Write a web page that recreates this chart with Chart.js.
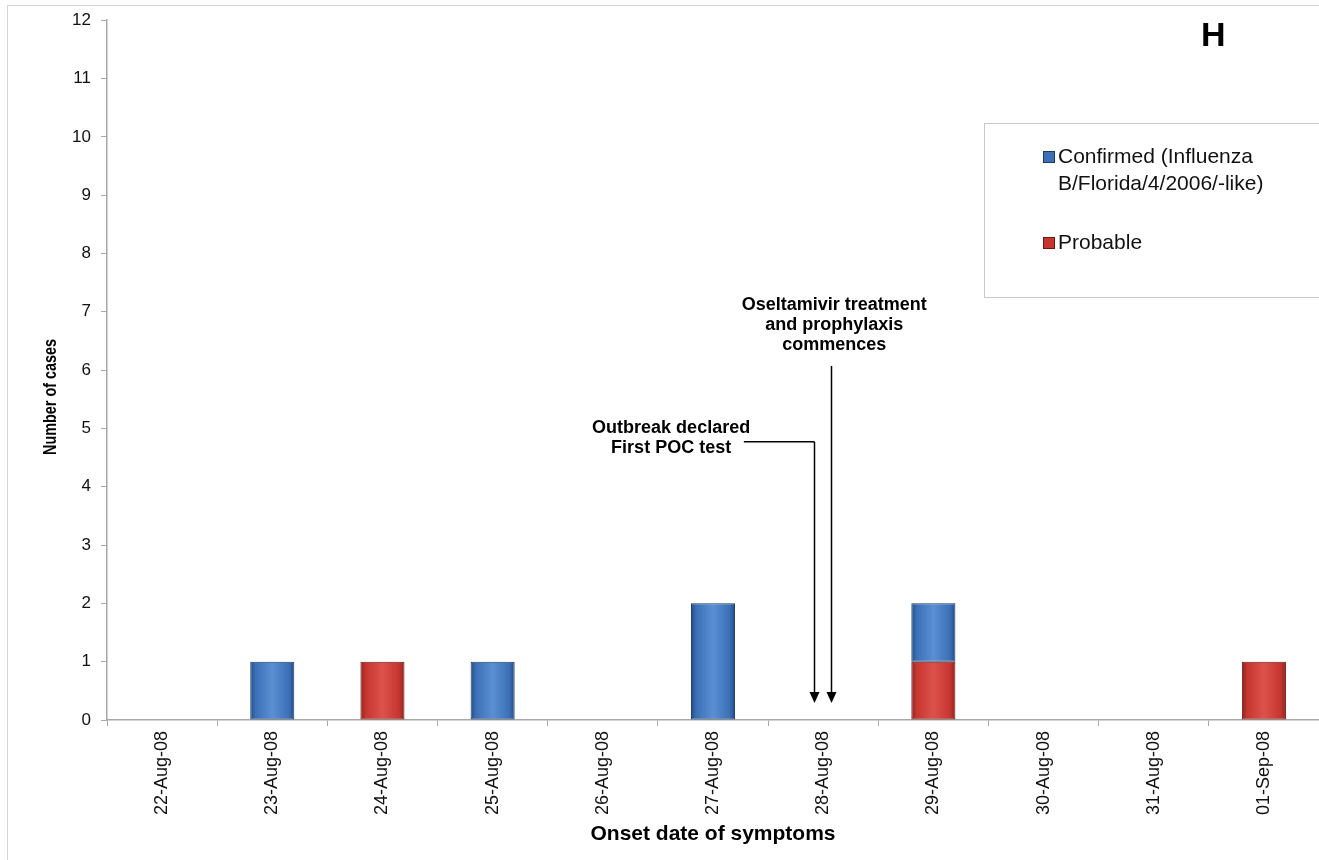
<!DOCTYPE html>
<html>
<head>
<meta charset="utf-8">
<script src="https://cdn.jsdelivr.net/npm/chart.js@4.4.1/dist/chart.umd.min.js"></script>
<style>
  html, body { margin: 0; padding: 0; background: #fff; }
  #wrap { width: 1319px; height: 860px; position: relative; }
</style>
</head>
<body>
<div id="wrap"><canvas id="epiChart"></canvas></div>
<script>
// categories and series
const onsetDates = ['22-Aug-08', '23-Aug-08', '24-Aug-08', '25-Aug-08', '26-Aug-08', '27-Aug-08',
                    '28-Aug-08', '29-Aug-08', '30-Aug-08', '31-Aug-08', '01-Sep-08'];
const confirmedCases = [0, 1, 0, 1, 0, 2, 0, 1, 0, 0, 0];
const probableCases = [0, 0, 1, 0, 0, 0, 0, 1, 0, 0, 1];
const yTicks = [0, 1, 2, 3, 4, 5, 6, 7, 8, 9, 10, 11, 12];
const seriesNames = [['Confirmed (Influenza', 'B/Florida/4/2006/-like)'], ['Probable']];

// annotation positions in data units (category index, cases)
const outbreakText = ['Outbreak declared', 'First POC test'];
const outbreakArrow = { x: 5.92, top: 4.77, tip: 0.29, leaderFrom: 5.28 };
const treatmentText = ['Oseltamivir treatment', 'and prophylaxis', 'commences'];
const treatmentArrow = { x: 6.07, top: 6.07, tip: 0.29 };

const FONT = '"Liberation Sans", Arial, Helvetica, sans-serif';
const colors = {
    blue: { mid: '#3b70b6', light: '#5b8fd3', dark: '#234c86', border: '#1c3a66' },
    red:  { mid: '#c6362f', light: '#dc524b', dark: '#8e221d', border: '#6a1915' }
};

function barGradient(ctx, c) {
    const chart = ctx.chart;
    const xs = chart.scales.x;
    if (!chart.chartArea || !xs || ctx.dataIndex === undefined) return c.mid;
    const cx = xs.getPixelForValue(ctx.dataIndex);
    const w = xs.width / onsetDates.length * 0.4;
    const g = chart.ctx.createLinearGradient(cx - w / 2, 0, cx + w / 2, 0);
    g.addColorStop(0, c.dark);
    g.addColorStop(0.12, c.mid);
    g.addColorStop(0.5, c.light);
    g.addColorStop(0.88, c.mid);
    g.addColorStop(1, c.dark);
    return g;
}

// outer frame, legend, annotations
const decorations = {
    id: 'decorations',
    beforeDraw(chart) {
        const ctx = chart.ctx;
        ctx.save();
        ctx.strokeStyle = '#d4d4d4';
        ctx.lineWidth = 1;
        ctx.strokeRect(7.5, 5.5, chart.width + 10, chart.height + 10);
        ctx.restore();
    },
    afterDraw(chart) {
        const ctx = chart.ctx;
        const xs = chart.scales.x, ys = chart.scales.y;
        const px = v => xs.getPixelForValue(v);
        const py = v => ys.getPixelForValue(v);
        ctx.save();

        // y axis title (condensed like the original)
        ctx.fillStyle = '#000';
        ctx.font = 'bold 18px ' + FONT;
        ctx.textAlign = 'center';
        ctx.textBaseline = 'middle';
        ctx.save();
        ctx.translate(51, 397);
        ctx.rotate(-Math.PI / 2);
        ctx.scale(0.8, 1);
        ctx.fillText('Number of cases', 0, 0);
        ctx.restore();

        // panel letter
        ctx.font = 'bold 34px ' + FONT;
        ctx.fillText('H', px(9.54), py(11.72));

        // legend
        ctx.strokeStyle = '#c8c8c8';
        ctx.lineWidth = 1;
        ctx.strokeRect(984.5, 123.5, 400, 174);
        ctx.font = '21px ' + FONT;
        ctx.textAlign = 'left';
        const legendRows = [
            { c: colors.blue, y: 157, lines: seriesNames[0] },
            { c: colors.red, y: 243, lines: seriesNames[1] }
        ];
        legendRows.forEach(r => {
            ctx.fillStyle = r.c.mid;
            ctx.fillRect(1043, r.y - 6, 12, 12);
            ctx.strokeStyle = r.c.border;
            ctx.strokeRect(1043.5, r.y - 5.5, 11, 11);
            ctx.fillStyle = '#111';
            r.lines.forEach((t, i) => ctx.fillText(t, 1058, r.y + i * 27));
        });

        // annotation texts
        ctx.font = 'bold 18px ' + FONT;
        ctx.textAlign = 'center';
        ctx.fillStyle = '#000';
        outbreakText.forEach((t, i) => ctx.fillText(t, px(4.62), py(5.01) + i * 20));
        treatmentText.forEach((t, i) => ctx.fillText(t, px(6.1), py(7.11) + i * 20));

        // arrows
        ctx.strokeStyle = '#000';
        ctx.lineWidth = 1.5;
        function arrow(x, yTop, yTip) {
            ctx.beginPath();
            ctx.moveTo(x, yTop);
            ctx.lineTo(x, yTip - 10);
            ctx.stroke();
            ctx.beginPath();
            ctx.moveTo(x - 5, yTip - 11);
            ctx.lineTo(x + 5, yTip - 11);
            ctx.lineTo(x, yTip);
            ctx.closePath();
            ctx.fill();
        }
        const ox = Math.round(px(outbreakArrow.x)) + 0.5;
        ctx.beginPath();
        ctx.moveTo(px(outbreakArrow.leaderFrom), py(outbreakArrow.top));
        ctx.lineTo(ox, py(outbreakArrow.top));
        ctx.stroke();
        arrow(ox, py(outbreakArrow.top), py(outbreakArrow.tip));
        arrow(Math.round(px(treatmentArrow.x)) + 0.5, py(treatmentArrow.top), py(treatmentArrow.tip));

        ctx.restore();
    }
};

const chartCanvas = document.getElementById('epiChart');
new Chart(chartCanvas, {
    type: 'bar',
    data: {
        labels: onsetDates,
        datasets: [{
            label: 'Probable',
            data: probableCases,
            backgroundColor: ctx => barGradient(ctx, colors.red),
            borderColor: colors.red.border,
            borderWidth: 1,
            borderSkipped: false
        }, {
            label: 'Confirmed (Influenza B/Florida/4/2006/-like)',
            data: confirmedCases,
            backgroundColor: ctx => barGradient(ctx, colors.blue),
            borderColor: colors.blue.border,
            borderWidth: 1,
            borderSkipped: false
        }]
    },
    options: {
        responsive: true,
        maintainAspectRatio: false,
        animation: false,
        layout: { padding: { left: 0, right: 0, top: 17, bottom: 0 } },
        datasets: { bar: { barPercentage: 0.4, categoryPercentage: 1 } },
        scales: {
            x: {
                stacked: true,
                grid: { drawOnChartArea: false, drawTicks: true, tickLength: 6, color: '#a8a8a8', offset: true },
                border: { color: '#a8a8a8', width: 1.5 },
                ticks: {
                    color: '#111',
                    font: { family: FONT, size: 18 },
                    minRotation: 90,
                    maxRotation: 90,
                    padding: 5,
                    autoSkip: false
                },
                title: {
                    display: true,
                    text: 'Onset date of symptoms',
                    color: '#000',
                    font: { family: FONT, size: 21, weight: 'bold' },
                    padding: { top: 0, bottom: 13 }
                },
                afterFit: scale => { scale.height = 140; }
            },
            y: {
                stacked: true,
                min: 0,
                max: 12,
                grid: { drawOnChartArea: false, drawTicks: true, tickLength: 6, color: '#a8a8a8' },
                border: { color: '#a8a8a8', width: 1.5 },
                afterBuildTicks: scale => { scale.ticks = yTicks.map(v => ({ value: v })); },
                ticks: {
                    color: '#111',
                    font: { family: FONT, size: 17 },
                    padding: 10
                },
                afterFit: scale => { scale.width = 107; }
            }
        },
        plugins: {
            legend: { display: false },
            tooltip: { enabled: false }
        }
    },
    plugins: [decorations]
});
</script>
</body>
</html>
